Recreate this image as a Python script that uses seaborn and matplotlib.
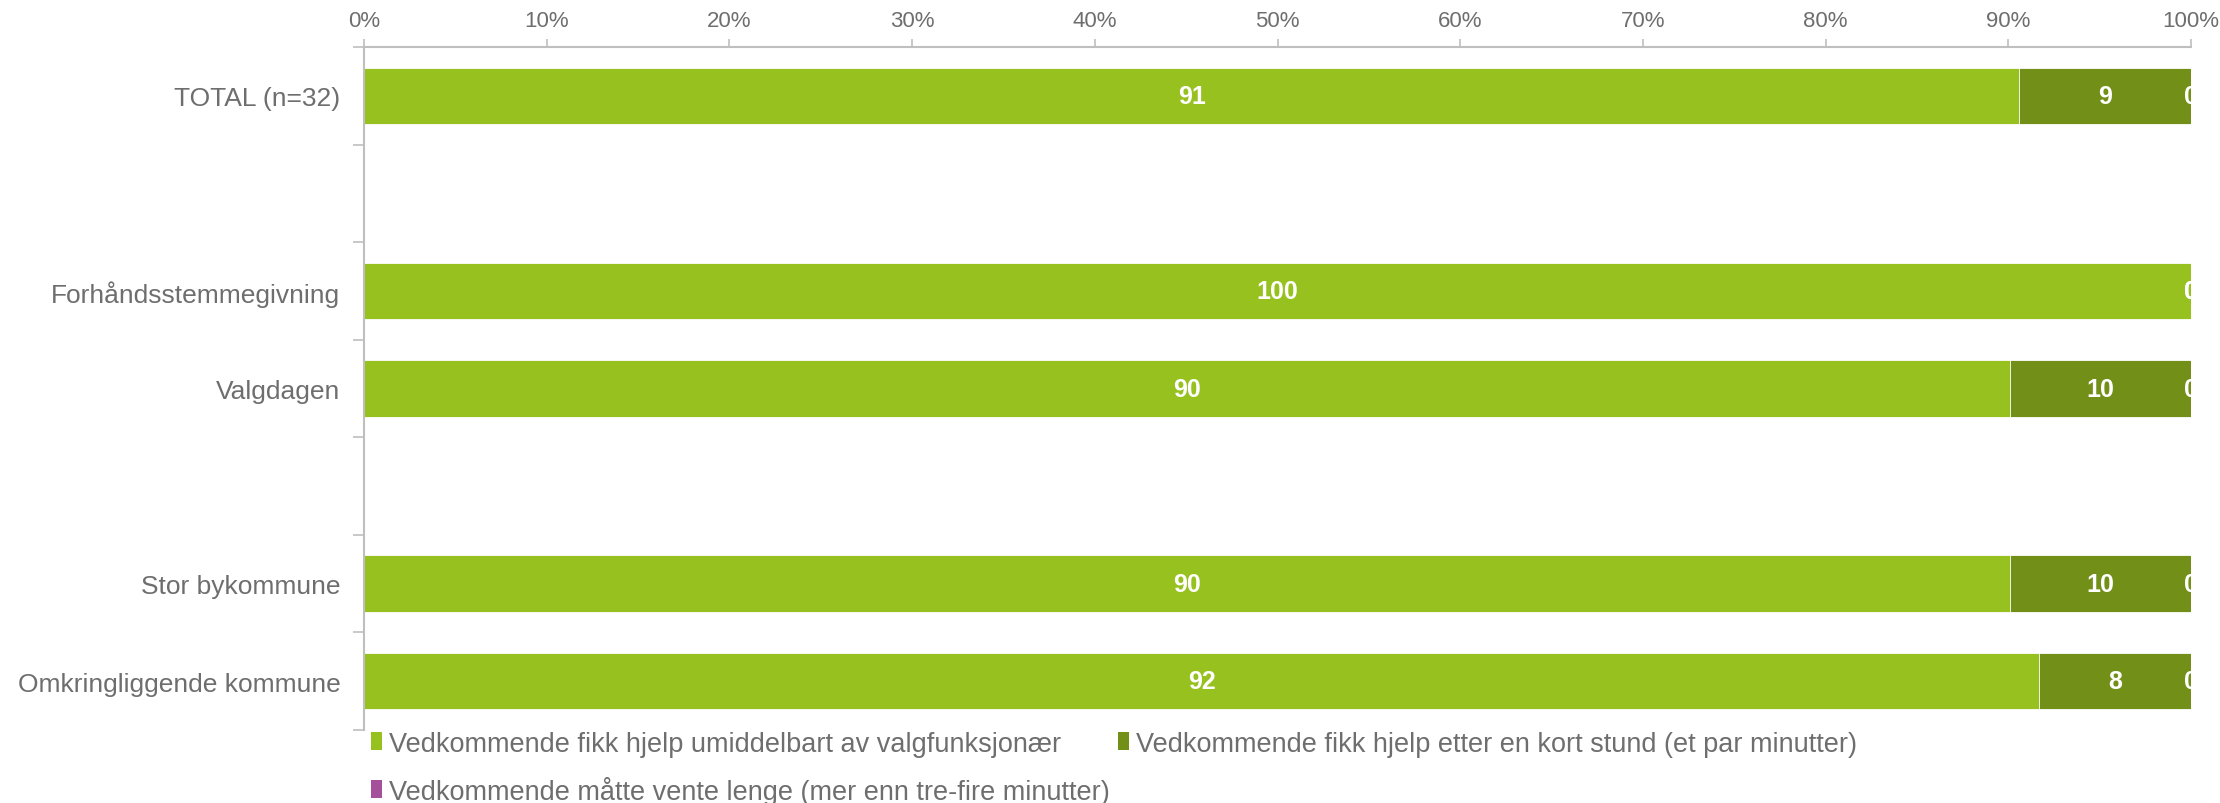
import numpy as np
import pandas as pd
import matplotlib
matplotlib.use("Agg")
import matplotlib.pyplot as plt
import seaborn as sns
from matplotlib.patches import Patch
from matplotlib.ticker import FixedLocator, PercentFormatter

# --- data ---
kategorier = ["TOTAL (n=32)", " ", "Forhåndsstemmegivning", "Valgdagen", "  ",
              "Stor bykommune", "Omkringliggende kommune"]
umiddelbart = [90.6, np.nan, 100.0, 90.1, np.nan, 90.1, 91.7]
kort_stund = [9.4, np.nan, 0.0, 9.9, np.nan, 9.9, 8.3]
vente_lenge = [0.0, np.nan, 0.0, 0.0, np.nan, 0.0, 0.0]
serier = ["Vedkommende fikk hjelp umiddelbart av valgfunksjonær",
          "Vedkommende fikk hjelp etter en kort stund (et par minutter)",
          "Vedkommende måtte vente lenge (mer enn tre-fire minutter)"]
farger = ["#97C11F", "#728F17", "#A5509A"]
tekstfarge = "#6E6E6E"
aksefarge = "#BFBFBF"

df = pd.DataFrame({"kategori": kategorier, "s1": umiddelbart,
                   "s2": kort_stund, "s3": vente_lenge})
df["c1"] = df["s1"]
df["c2"] = df["s1"] + df["s2"]
df["c3"] = df["c2"] + df["s3"]

sns.set_theme(style="white")
plt.rcParams["font.family"] = ["Liberation Sans", "DejaVu Sans"]

fig = plt.figure(figsize=(22.2, 8.04), dpi=100)
ax = fig.add_axes([0.164, 0.091, 0.823, 0.849])

# stablede søyler: tegn kumulative summer bakfra
for col, farge in [("c3", farger[2]), ("c2", farger[1]), ("c1", farger[0])]:
    sns.barplot(data=df, y="kategori", x=col, order=kategorier, orient="h",
                color=farge, width=0.58, errorbar=None, saturation=1,
                edgecolor="white", linewidth=0.6, ax=ax)

# verdietiketter
for i, row in df.iterrows():
    if np.isnan(row["s1"]):
        continue
    start = 0.0
    for s in ["s1", "s2", "s3"]:
        v = row[s]
        ax.text(start + v / 2, i, f"{v:.0f}", ha="center", va="center",
                color="white", fontsize=18, fontweight="bold", clip_on=True)
        start += v

ax.set_xlim(0, 100)
ax.set_ylim(6.5, -0.5)
ax.set_xlabel("")
ax.set_ylabel("")
ax.xaxis.tick_top()
ax.xaxis.set_major_locator(FixedLocator(np.arange(0, 101, 10)))
ax.xaxis.set_major_formatter(PercentFormatter(decimals=0))
ax.tick_params(axis="x", which="major", direction="out", length=6, width=1.2,
               color=aksefarge, labelsize=16, labelcolor=tekstfarge, pad=6,
               top=True, bottom=False)

ax.set_yticks(range(len(kategorier)))
ax.set_yticklabels([k.strip() for k in kategorier])
ax.yaxis.set_minor_locator(FixedLocator(np.arange(-0.5, 7, 1)))
ax.tick_params(axis="y", which="major", length=0, labelsize=19,
               labelcolor=tekstfarge, pad=17)
ax.tick_params(axis="y", which="minor", left=True, length=8, width=1.2,
               color=aksefarge, direction="out")

for side in ["right", "bottom"]:
    ax.spines[side].set_visible(False)
for side in ["left", "top"]:
    ax.spines[side].set_visible(True)
    ax.spines[side].set_color(aksefarge)
    ax.spines[side].set_linewidth(1.5)

# forklaring: rad 1 = serie 1 og 2, rad 2 = serie 3
handles = [Patch(facecolor=f, edgecolor="none") for f in farger]
rekkefolge = [0, 2, 1]
fig.legend([handles[j] for j in rekkefolge], [serier[j] for j in rekkefolge],
           loc="upper left", bbox_to_anchor=(0.167, 0.090), ncol=2,
           frameon=False, fontsize=19.5, labelcolor=tekstfarge,
           handlelength=0.42, handleheight=0.6, handletextpad=0.25,
           columnspacing=0.3, labelspacing=0.7, borderpad=0, borderaxespad=0)

fig.savefig("out.png", dpi=100)
